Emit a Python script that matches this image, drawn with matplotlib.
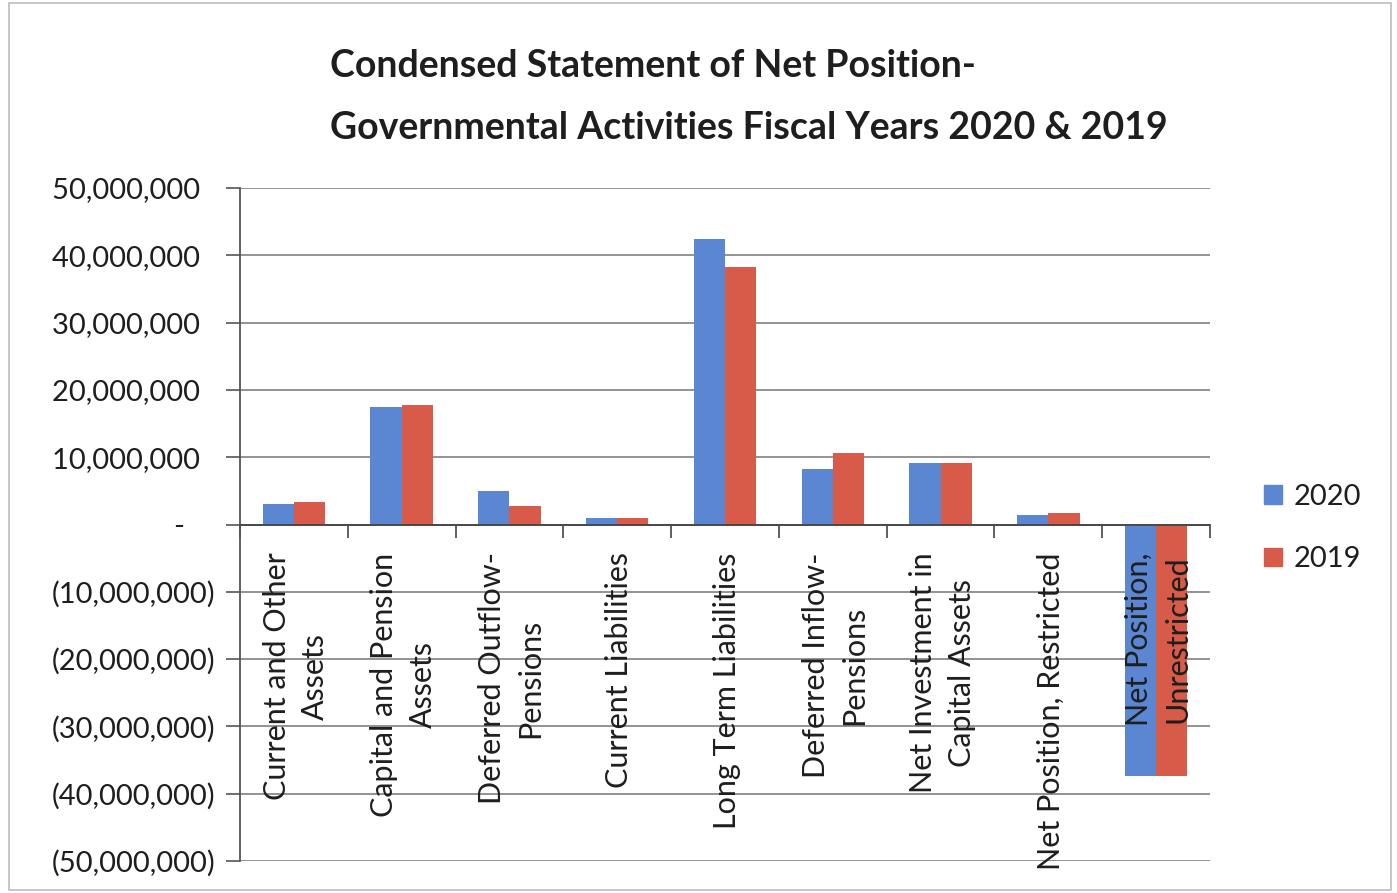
import matplotlib
matplotlib.use('Agg')
import matplotlib.pyplot as plt
import matplotlib.patches as mpatches
from matplotlib.ticker import FuncFormatter
import numpy as np

plt.rcParams['font.family'] = ['Lato', 'DejaVu Sans']

# -- Data --------------------------------------------------------------
categories = [
    "Current and Other\nAssets",
    "Capital and Pension\nAssets",
    "Deferred Outflow-\nPensions",
    "Current Liabilities",
    "Long Term Liabilities",
    "Deferred Inflow-\nPensions",
    "Net Investment in\nCapital Assets",
    "Net Position, Restricted",
    "Net Position,\nUnrestricted",
]
fy2020 = [3100000, 17500000, 5000000, 1000000, 42400000,
          8300000, 9200000, 1450000, -37400000]
fy2019 = [3350000, 17750000, 2700000, 1000000, 38200000,
          10650000, 9200000, 1750000, -37400000]
years = ["2020", "2019"]

C_2020 = "#5B87D2"
C_2019 = "#D75B48"
C_GRID = "#8A8A8A"
C_TEXT = "#1E1E1E"

W, H = 1397, 893
fig = plt.figure(figsize=(W / 100, H / 100), dpi=100, facecolor='white')

# chart border
fig.patches.append(mpatches.Rectangle((9 / W, 3 / H), 1382 / W, 887 / H,
                   transform=fig.transFigure, fill=False,
                   edgecolor="#BDBDBD", linewidth=1.2))

ax = fig.add_axes([240 / W, 1 - 861 / H, 970 / W, 673 / H])

x = np.arange(len(categories))
bw = 0.29
ax.bar(x - bw / 2, fy2020, width=bw, color=C_2020, label=years[0], zorder=3)
ax.bar(x + bw / 2, fy2019, width=bw, color=C_2019, label=years[1], zorder=3)

ax.set_xlim(-0.5, len(categories) - 0.5)
ax.set_ylim(-50000000, 50000000)
ax.set_yticks(np.arange(-50000000, 50000001, 10000000))


def money(v, pos):
    if abs(v) < 1:
        return "-    "
    if v < 0:
        return "({:,.0f})".format(-v)
    return "{:,.0f}  ".format(v)


ax.yaxis.set_major_formatter(FuncFormatter(money))
ax.tick_params(axis='y', direction='out', length=10, width=1.2,
               color="#555555", pad=8, labelsize=21, labelcolor=C_TEXT)
ax.grid(True, axis='y', color=C_GRID, linewidth=1.3, zorder=0)

# category axis sits on zero, ticks at the category boundaries
ax.set_xticks(np.arange(-0.5, len(categories), 1.0))
ax.set_xticklabels([])
ax.tick_params(axis='x', direction='out', length=9, width=1.2, color="#444444")
ax.spines['bottom'].set_position(('data', 0))
ax.spines['bottom'].set_color("#444444")
ax.spines['bottom'].set_linewidth(1.3)
ax.spines['bottom'].set_zorder(4)
ax.spines['left'].set_color("#555555")
ax.spines['left'].set_linewidth(1.3)
ax.spines['top'].set_visible(False)
ax.spines['right'].set_visible(False)

for xi, name in zip(x, categories):
    ax.annotate(name, xy=(xi, 0), xytext=(2, -28), textcoords='offset pixels',
                rotation=90, ha='center', va='top', multialignment='center',
                fontsize=22, color=C_TEXT, linespacing=1.45, zorder=5)

ax.legend(handles=[mpatches.Patch(color=C_2020, label=years[0]),
                   mpatches.Patch(color=C_2019, label=years[1])],
          loc='center left', bbox_to_anchor=(1238 / W, 1 - 528 / H),
          bbox_transform=fig.transFigure, frameon=False, fontsize=21,
          handlelength=0.6, handleheight=0.6, handletextpad=0.4,
          labelspacing=1.25, labelcolor=C_TEXT)

fig.text(330 / W, 1 - 97 / H,
         "Condensed Statement of Net Position-\n"
         "Governmental Activities Fiscal Years 2020 & 2019",
         ha='left', va='center', fontsize=27, fontweight='bold',
         color=C_TEXT, linespacing=2.0)

fig.savefig("out.png", dpi=100, facecolor='white')
